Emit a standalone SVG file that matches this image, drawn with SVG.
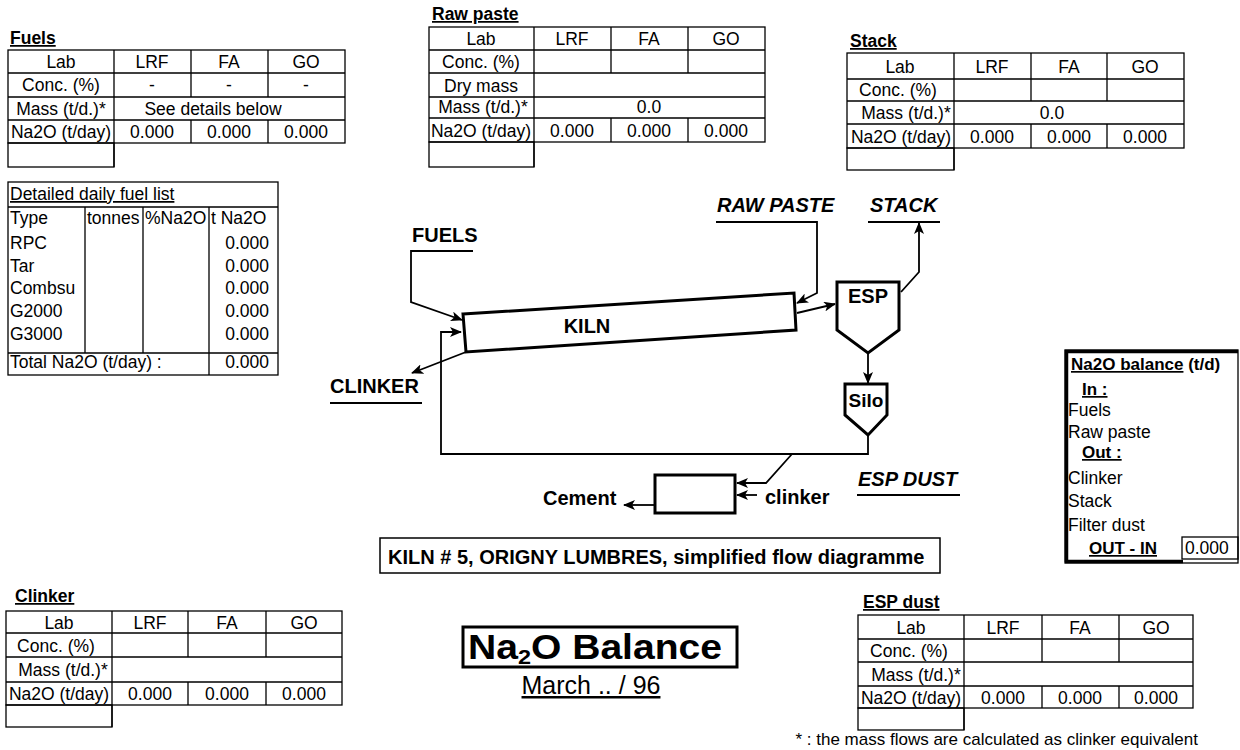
<svg xmlns="http://www.w3.org/2000/svg" width="1240" height="750" viewBox="0 0 1240 750">
<style>
text{font-family:"Liberation Sans",Arial,sans-serif;fill:#000}
.t{font-size:17.5px}
.c{text-anchor:middle}
.e{text-anchor:end}
.b{font-weight:bold}
.u{text-decoration:underline}
.lbl{font-size:20px;font-weight:bold}
.it{font-style:italic}
.g{stroke:#000;stroke-width:1.3;fill:none}
.thick{stroke:#000;stroke-width:3;fill:#fff;stroke-linejoin:miter}
.ln{stroke:#000;stroke-width:1.8;fill:none}
.conn{stroke:#000;stroke-width:1.8;fill:none;marker-end:url(#ah)}
</style>
<defs>
<marker id="ah" viewBox="0 0 12 10" refX="11" refY="5" markerWidth="12" markerHeight="10" orient="auto" markerUnits="userSpaceOnUse"><path d="M0,0 L12,5 L0,10 L3,5 z" fill="#000"/></marker>
</defs>
<rect width="1240" height="750" fill="#fff"/>

<!-- Fuels table -->
<g id="fuels-table">
<text x="10" y="44" class="t b u">Fuels</text>
<rect x="8" y="50" width="337" height="93" class="g"/>
<path class="g" d="M8,73H345M8,97H345M8,120H345M114,50V167M191,50V97M268,50V97M191,120V143M268,120V143"/>
<rect x="8" y="143" width="106" height="24" class="g"/>
<text class="t c" x="61" y="68">Lab</text><text class="t c" x="152" y="68">LRF</text><text class="t c" x="229" y="68">FA</text><text class="t c" x="306" y="68">GO</text>
<text class="t c" x="61" y="91">Conc. (%)</text><text class="t c" x="152" y="91">-</text><text class="t c" x="229" y="91">-</text><text class="t c" x="306" y="91">-</text>
<text class="t c" x="61" y="115">Mass (t/d.)*</text><text class="t c" x="213" y="115">See details below</text>
<text class="t c" x="61" y="138">Na2O (t/day)</text><text class="t c" x="152" y="138">0.000</text><text class="t c" x="229" y="138">0.000</text><text class="t c" x="306" y="138">0.000</text>
</g>

<!-- Raw paste table -->
<g id="rawpaste-table">
<text x="432" y="20" class="t b u">Raw paste</text>
<rect x="429" y="27" width="336" height="115" class="g"/>
<path class="g" d="M429,50H765M429,73H765M429,97H765M429,118H765M534,27V167M611,27V73M688,27V73M611,118V142M688,118V142"/>
<rect x="429" y="142" width="105" height="25" class="g"/>
<text class="t c" x="481" y="45">Lab</text><text class="t c" x="572" y="45">LRF</text><text class="t c" x="649" y="45">FA</text><text class="t c" x="726" y="45">GO</text>
<text class="t c" x="481" y="68">Conc. (%)</text>
<text class="t c" x="481" y="92">Dry mass</text>
<text class="t c" x="483" y="113">Mass (t/d.)*</text><text class="t c" x="649" y="113">0.0</text>
<text class="t c" x="481" y="137">Na2O (t/day)</text><text class="t c" x="572" y="137">0.000</text><text class="t c" x="649" y="137">0.000</text><text class="t c" x="726" y="137">0.000</text>
</g>

<!-- Stack table -->
<g id="stack-table">
<text x="850" y="47" class="t b u">Stack</text>
<rect x="847" y="53" width="337" height="95" class="g"/>
<path class="g" d="M847,79H1184M847,101H1184M847,124H1184M954,53V170M1031,53V101M1107,53V101M1031,124V148M1107,124V148"/>
<rect x="847" y="148" width="107" height="22" class="g"/>
<text class="t c" x="900" y="73">Lab</text><text class="t c" x="992" y="73">LRF</text><text class="t c" x="1069" y="73">FA</text><text class="t c" x="1145" y="73">GO</text>
<text class="t c" x="898" y="96">Conc. (%)</text>
<text class="t c" x="906" y="119">Mass (t/d.)*</text><text class="t c" x="1052" y="119">0.0</text>
<text class="t c" x="901" y="143">Na2O (t/day)</text><text class="t c" x="992" y="143">0.000</text><text class="t c" x="1069" y="143">0.000</text><text class="t c" x="1145" y="143">0.000</text>
</g>

<!-- Detailed fuel list -->
<g id="fuel-list">
<rect x="8" y="182" width="270" height="193" class="g"/>
<path class="g" d="M8,207H278M8,353H278M85,207V353M143,207V353M209,207V375"/>
<text class="t u" x="10" y="200">Detailed daily fuel list</text>
<text class="t" x="10" y="224">Type</text><text class="t" x="87" y="224">tonnes</text><text class="t" x="145" y="224">%Na2O</text><text class="t" x="211" y="224">t Na2O</text>
<text class="t" x="10" y="249">RPC</text><text class="t e" x="269" y="249">0.000</text>
<text class="t" x="10" y="272">Tar</text><text class="t e" x="269" y="272">0.000</text>
<text class="t" x="10" y="294">Combsu</text><text class="t e" x="269" y="294">0.000</text>
<text class="t" x="10" y="317">G2000</text><text class="t e" x="269" y="317">0.000</text>
<text class="t" x="10" y="340">G3000</text><text class="t e" x="269" y="340">0.000</text>
<text class="t" x="10" y="368">Total Na2O (t/day) :</text><text class="t e" x="269" y="368">0.000</text>
</g>

<!-- Flow diagram nodes -->
<g id="kiln">
<path class="thick" d="M463,314 L794,293 L796,330 L466,352 Z"/>
<text class="lbl c" x="587" y="333">KILN</text>
</g>
<g id="esp">
<path class="thick" d="M837,282 L899,282 L899,330 L868,353 L837,330 Z"/>
<text class="lbl c" x="868" y="303">ESP</text>
</g>
<g id="silo">
<path class="thick" d="M845,384 L887,384 L887,415 L868,435 L845,415 Z"/>
<text class="lbl c" x="866" y="407" style="font-size:19px">Silo</text>
</g>
<g id="cement-mill">
<rect x="655" y="475" width="80" height="38" class="thick"/>
</g>
<g id="label-fuels"><text class="lbl" x="412" y="242">FUELS</text></g>
<g id="label-clinker-out"><text class="lbl" x="330" y="393">CLINKER</text><path class="ln" d="M330,403H422"/></g>
<g id="label-rawpaste"><text class="lbl it" x="717" y="212">RAW PASTE</text></g>
<g id="label-stack"><text class="lbl it" x="870" y="212">STACK</text><path class="ln" d="M868,222H940"/></g>
<g id="label-espdust"><text class="lbl it" x="858" y="486">ESP DUST</text><path class="ln" d="M857,495H960"/></g>
<g id="label-cement"><text class="lbl" x="543" y="505">Cement</text></g>
<g id="label-clinker-in"><text class="lbl" x="765" y="504">clinker</text></g>

<!-- Connectors -->
<g id="connectors">
<polyline class="conn" points="473,251 411,251 411,302 462,320"/>
<polyline class="conn" points="868,435 868,454 441,454 441,332 461,332"/>
<line class="conn" x1="466" y1="352" x2="412" y2="373"/>
<polyline class="conn" points="716,222 817,222 817,293 797,303"/>
<line class="conn" x1="797" y1="313" x2="835" y2="304"/>
<polyline class="conn" points="901,292 919,272 919,223"/>
<line class="conn" x1="868" y1="353" x2="868" y2="383"/>
<polyline class="conn" points="792,454 766,483 737,483"/>
<line class="conn" x1="757" y1="495" x2="737" y2="495"/>
<line class="conn" x1="655" y1="505" x2="624" y2="505"/>
</g>

<!-- Balance box -->
<g id="balance">
<rect x="1065" y="350" width="173" height="213" fill="#fff" stroke="#000" stroke-width="1.3"/>
<path d="M1066.5,562 V351.5 H1238" stroke="#000" stroke-width="3.5" fill="none"/>
<path d="M1065,561.5 H1183" stroke="#000" stroke-width="3.5" fill="none"/>
<rect x="1182" y="537" width="56" height="22" class="g" fill="#fff"/>
<text class="t b" x="1071" y="370" style="font-size:17px"><tspan class="u">Na2O balance</tspan> (t/d)</text>
<text class="t b u" x="1082" y="395" style="font-size:17px">In :</text>
<text class="t" x="1068" y="416">Fuels</text>
<text class="t" x="1068" y="438">Raw paste</text>
<text class="t b u" x="1082" y="458" style="font-size:17px">Out :</text>
<text class="t" x="1068" y="484">Clinker</text>
<text class="t" x="1068" y="507">Stack</text>
<text class="t" x="1068" y="531">Filter dust</text>
<text class="t b u" x="1089" y="554" style="font-size:17px">OUT - IN</text>
<text class="t" x="1185" y="554">0.000</text>
</g>

<!-- Title box -->
<g id="title-box">
<rect x="380" y="538" width="560" height="35" fill="#fff" stroke="#000" stroke-width="1.5"/>
<text class="lbl" x="388" y="564">KILN # 5, ORIGNY LUMBRES, simplified flow diagramme</text>
</g>

<!-- Main title -->
<g id="main-title">
<rect x="463" y="627" width="274" height="40" fill="#fff" stroke="#000" stroke-width="3"/>
<text class="b" x="468" y="659" style="font-size:35px" textLength="254" lengthAdjust="spacingAndGlyphs">Na<tspan dy="5" style="font-size:21px">2</tspan><tspan dy="-5">O Balance</tspan></text>
<text class="c u" x="591" y="694" style="font-size:25px">March .. / 96</text>
</g>

<!-- Clinker table -->
<g id="clinker-table">
<text x="15" y="602" class="t b u">Clinker</text>
<rect x="6" y="611" width="336" height="94" class="g"/>
<path class="g" d="M6,633H342M6,657H342M6,682H342M112,611V727M188,611V657M266,611V657M188,682V705M266,682V705"/>
<rect x="6" y="705" width="106" height="22" class="g"/>
<text class="t c" x="59" y="629">Lab</text><text class="t c" x="150" y="629">LRF</text><text class="t c" x="227" y="629">FA</text><text class="t c" x="304" y="629">GO</text>
<text class="t c" x="56" y="652">Conc. (%)</text>
<text class="t c" x="63" y="676">Mass (t/d.)*</text>
<text class="t c" x="59" y="700">Na2O (t/day)</text><text class="t c" x="150" y="700">0.000</text><text class="t c" x="227" y="700">0.000</text><text class="t c" x="304" y="700">0.000</text>
</g>

<!-- ESP dust table -->
<g id="espdust-table">
<text x="863" y="608" class="t b u">ESP dust</text>
<rect x="858" y="615" width="335" height="93" class="g"/>
<path class="g" d="M858,639H1193M858,662H1193M858,686H1193M964,615V730M1042,615V662M1119,615V662M1042,686V708M1119,686V708"/>
<rect x="858" y="708" width="106" height="22" class="g"/>
<text class="t c" x="911" y="634">Lab</text><text class="t c" x="1003" y="634">LRF</text><text class="t c" x="1080" y="634">FA</text><text class="t c" x="1156" y="634">GO</text>
<text class="t c" x="909" y="657">Conc. (%)</text>
<text class="t c" x="916" y="681">Mass (t/d.)*</text>
<text class="t c" x="911" y="704">Na2O (t/day)</text><text class="t c" x="1003" y="704">0.000</text><text class="t c" x="1080" y="704">0.000</text><text class="t c" x="1156" y="704">0.000</text>
<text class="t e" x="1198" y="745" style="font-size:17px">* : the mass flows are calculated as clinker equivalent</text>
</g>
</svg>
